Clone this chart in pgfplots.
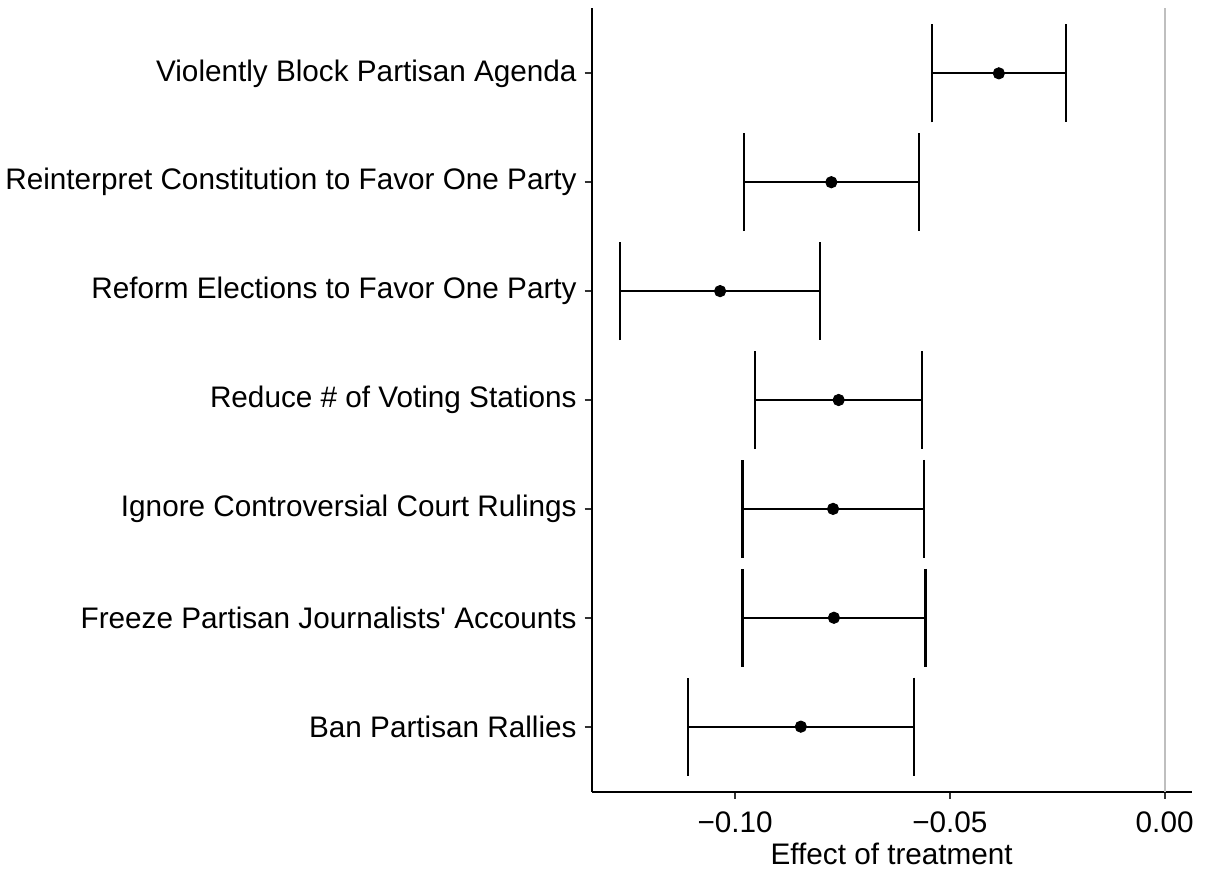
\documentclass[border=0pt]{standalone}
\usepackage{fontspec}
\setmainfont{Liberation Sans}
\usepackage{pgfplots}
\pgfplotsset{compat=1.18}
\begin{document}
\begin{tikzpicture}
\path[use as bounding box] (-295.85pt,-40pt) rectangle (306.65pt,396pt);
\begin{axis}[
  at={(0pt,0pt)}, anchor=south west,
  scale only axis, width=300pt, height=392pt,
  xmin=-0.1334, xmax=0.0063, ymin=0.4, ymax=7.6,
  axis lines*=left,
  axis line style={line width=1.1pt, black},
  tick style={line width=0.9pt, black!80},
  tick align=outside, major tick length=3.5pt,
  xtick={-0.1,-0.05,0}, xticklabels={−0.10,−0.05,0.00},
  ytick={1,2,3,4,5,6,7},
  yticklabels={Ban Partisan Rallies,
    Freeze Partisan Journalists\textquotesingle\ Accounts,
    Ignore Controversial Court Rulings,
    Reduce \# of Voting Stations,
    Reform Elections to Favor One Party,
    Reinterpret Constitution to Favor One Party,
    Violently Block Partisan Agenda},
  ticklabel style={font=\fontsize{14.85pt}{17pt}\selectfont, inner sep=0pt},
  xticklabel style={anchor=north, yshift=-6pt},
  yticklabel style={anchor=east, xshift=-3.85pt},
  xlabel={Effect of treatment},
  xlabel style={font=\fontsize{14.85pt}{17pt}\selectfont, inner sep=0pt,
    at={(axis description cs:0.5,0)}, anchor=base, yshift=-36.5pt},
  clip=false,
]
\addplot[black!25, line width=1.1pt] coordinates {(0,0.4) (0,7.6)};
\addplot[black, line width=1.1pt, mark=*, mark size=2.8pt, only marks,
  mark options={line width=0.5pt},
  error bars/.cd, x dir=both, x explicit,
  error bar style={line width=1.1pt, black},
  error mark options={line width=1.1pt, black, mark size=24.5pt, rotate=90}]
  coordinates {
  (-0.0386,7) +- (0.0156,0)
  (-0.0776,6) +- (0.0204,0)
  (-0.1035,5) +- (0.0233,0)
  (-0.0759,4) +- (0.0194,0)
  (-0.0772,3) +- (0.0211,0)
  (-0.0770,2) +- (0.0213,0)
  (-0.0847,1) +- (0.0263,0)
  };
\end{axis}
\end{tikzpicture}
\end{document}
